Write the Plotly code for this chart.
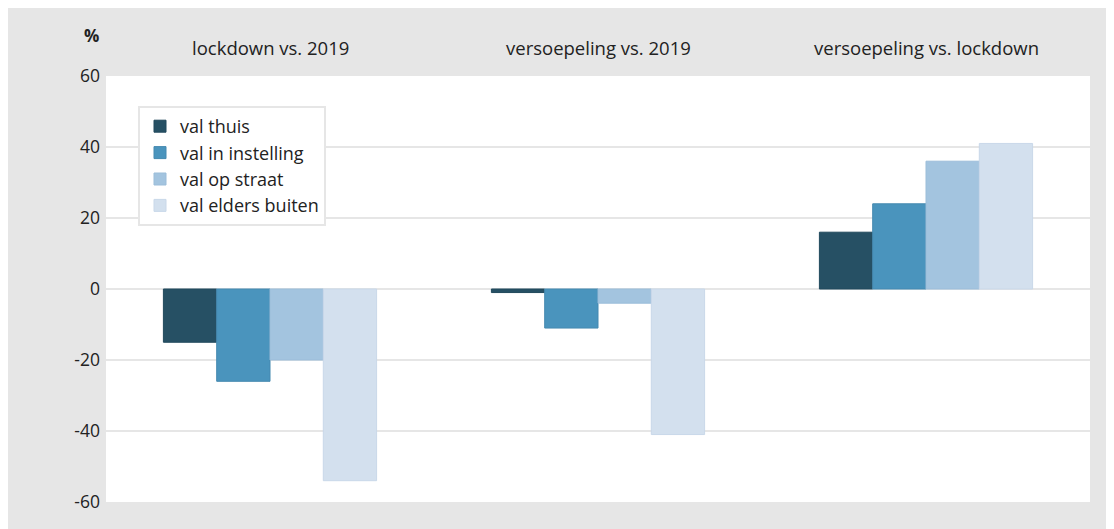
import plotly.graph_objects as go

categories = ["lockdown vs. 2019", "versoepeling vs. 2019", "versoepeling vs. lockdown"]
series_names = ["val thuis", "val in instelling", "val op straat", "val elders buiten"]
val_thuis = [-15, -1, 16]
val_instelling = [-26, -11, 24]
val_straat = [-20, -4, 36]
val_elders = [-54, -41, 41]
y_ticks = [-60, -40, -20, 0, 20, 40, 60]

series_values = [val_thuis, val_instelling, val_straat, val_elders]
colors = ["#265064", "#4a94bd", "#a3c4df", "#d3e0ee"]
line_colors = ["#21495c", "#4589b0", "#9bbdd9", "#c9d8e9"]

# the page body adds an 8px offset; figure coordinates below are screenshot - 8
OFF = 8
W, H = 1114 - OFF, 529 - OFF
ml, mt = 106 - OFF, 76 - OFF
mr = W - (1090 - OFF)
mb = H - (502 - OFF)
pw, ph = W - ml - mr, H - mt - mb

fig = go.Figure()
for name, vals, c, lc in zip(series_names, series_values, colors, line_colors):
    fig.add_trace(go.Bar(x=categories, y=vals, name=name,
                         marker=dict(color=c, line=dict(color=lc, width=1))))

font_family = "Open Sans, Noto Sans, DejaVu Sans, sans-serif"

annotations = []
for cat in categories:
    annotations.append(dict(x=cat, xref="x", yref="paper", y=1 + (76 - 48) / ph,
                            text=cat, showarrow=False, xanchor="center", yanchor="middle",
                            font=dict(size=18.5, color="#222222", family=font_family)))
annotations.append(dict(x=(91 - 106) / pw, xref="paper", y=1 + (76 - 35) / ph, yref="paper",
                        text="<b>%</b>", showarrow=False, xanchor="center", yanchor="middle",
                        font=dict(size=17, color="#222222", family=font_family)))

fig.update_layout(
    width=W, height=H,
    margin=dict(l=ml, r=mr, t=mt, b=mb, pad=0),
    paper_bgcolor="#e6e6e6",
    plot_bgcolor="white",
    barmode="group",
    bargap=0.35,
    bargroupgap=0,
    font=dict(family=font_family, color="#222222", size=17),
    showlegend=True,
    legend=dict(x=(138 - 106) / pw, y=1 - (106 - 76) / ph, xanchor="left", yanchor="top",
                bgcolor="white", bordercolor="#e6e6e6", borderwidth=2,
                font=dict(size=18, color="#222222", family=font_family),
                itemwidth=30, tracegroupgap=0),
    xaxis=dict(showticklabels=False, showgrid=False, zeroline=False, showline=False, ticks=""),
    yaxis=dict(range=[-60, 60], tickvals=y_ticks, ticktext=[str(v) for v in y_ticks],
               showgrid=True, gridcolor="#e6e6e6", gridwidth=2,
               zeroline=True, zerolinecolor="#e6e6e6", zerolinewidth=2,
               showline=False, ticks="", ticklabelstandoff=5,
               tickfont=dict(size=17.5, color="#222222")),
    annotations=annotations,
)

fig.write_html("out.html")
